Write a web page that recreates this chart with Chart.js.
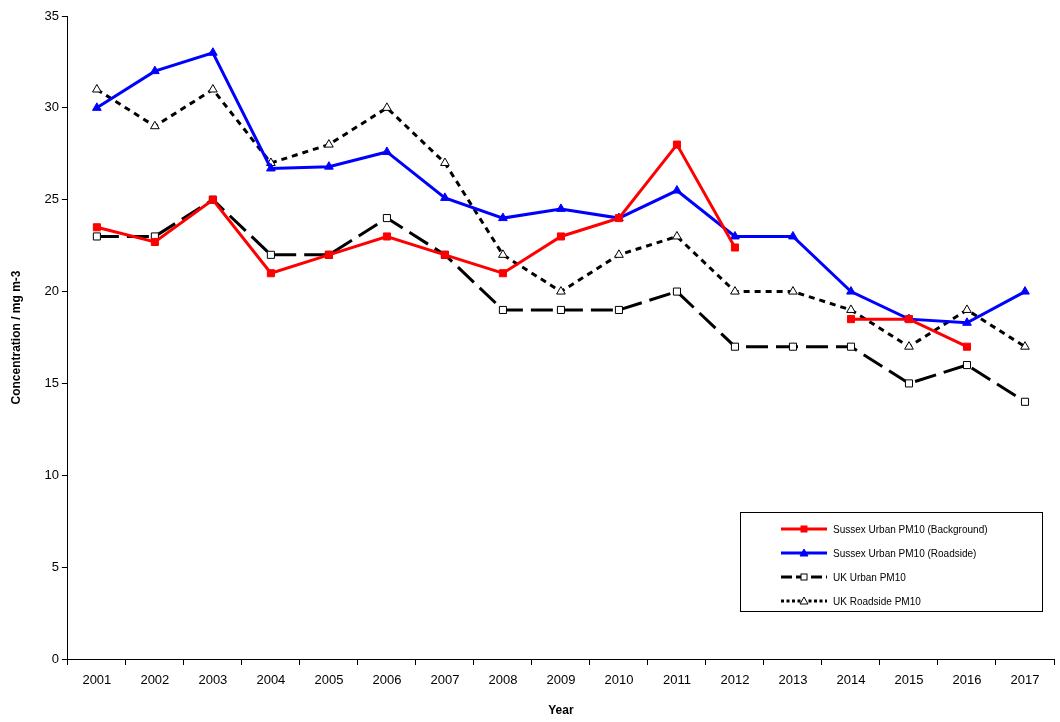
<!DOCTYPE html>
<html><head><meta charset="utf-8">
<script src="https://cdn.jsdelivr.net/npm/chart.js@4/dist/chart.umd.min.js"></script>
<style>
body{margin:0;background:#fff;font-family:"Liberation Sans",Arial,sans-serif}
#wrap{position:relative;width:1060px;height:722px}
#legend{position:absolute;left:740px;top:512px;width:303px;height:100px;border:1px solid #000;background:#fff;font-size:10px;box-sizing:border-box;padding-top:4px}
#legend div{height:24px;display:flex;align-items:center}
#legend canvas{margin:0 6px 0 40px}
</style></head><body>
<div id="wrap"><canvas id="c" width="1060" height="722"></canvas>
<div id="legend"></div></div>
<script>
const years = ['2001','2002','2003','2004','2005','2006','2007','2008','2009','2010','2011','2012','2013','2014','2015','2016','2017'];
const sussexBackground = [23.5,22.7,25,21,22,23,22,21,23,24,28,22.4,null,18.5,18.5,17,null];
const sussexRoadside = [30,32,33,26.7,26.8,27.6,25.1,24,24.5,24,25.5,23,23,20,18.5,18.3,20];
const ukUrban = [23,23,25,22,22,24,22,19,19,19,20,17,17,17,15,16,14];
const ukRoadside = [31,29,31,27,28,30,27,22,20,22,23,20,20,19,17,19,17];

const series = [
  {label:'Sussex Urban PM10 (Background)', data:sussexBackground, borderColor:'#ff0000', backgroundColor:'#ff0000', pointStyle:'rect', pointRadius:5, borderDash:[]},
  {label:'Sussex Urban PM10 (Roadside)', data:sussexRoadside, borderColor:'#0000ff', backgroundColor:'#0000ff', pointStyle:'triangle', pointRadius:5, borderDash:[]},
  {label:'UK Urban PM10', data:ukUrban, borderColor:'#000', backgroundColor:'#fff', pointStyle:'rect', pointRadius:5, borderDash:[22,8]},
  {label:'UK Roadside PM10', data:ukRoadside, borderColor:'#000', backgroundColor:'#fff', pointStyle:'triangle', pointRadius:5, borderDash:[6,5]}
];

new Chart(document.getElementById('c'), {
  type:'line',
  data:{labels:years, datasets:series.map(s => ({...s, borderWidth:3, pointBorderWidth:1, tension:0, spanGaps:false}))},
  options:{
    responsive:false, animation:false,
    layout:{padding:{top:16,right:0,left:9,bottom:0}},
    plugins:{legend:{display:false}, tooltip:{enabled:false}},
    scales:{
      x:{offset:true, grid:{display:true, offset:true, drawOnChartArea:false, tickLength:6, color:'#000'}, border:{color:'#000'},
         ticks:{padding:8, color:'#000', font:{size:13, family:'Liberation Sans'}},
         title:{display:true, text:'Year', color:'#000', padding:{top:7,bottom:4}, font:{size:12, weight:'bold', family:'Liberation Sans'}}},
      y:{min:0, max:35, grid:{display:true, drawOnChartArea:false, tickLength:6, color:'#000'}, border:{color:'#000'},
         ticks:{stepSize:5, color:'#000', font:{size:13, family:'Liberation Sans'}},
         title:{display:true, text:'Concentration / mg m-3', color:'#000', padding:{top:0,bottom:18}, font:{size:12, weight:'bold', family:'Liberation Sans'}}}
    }
  }
});

const lg = document.getElementById('legend');
series.forEach(s => {
  const row = document.createElement('div');
  const cv = document.createElement('canvas'); cv.width = 46; cv.height = 12;
  const g = cv.getContext('2d');
  g.strokeStyle = s.borderColor; g.lineWidth = 3; g.setLineDash(s.borderDash.map(v => v/2));
  g.beginPath(); g.moveTo(0,6); g.lineTo(46,6); g.stroke();
  g.setLineDash([]); g.fillStyle = s.backgroundColor; g.lineWidth = 1;
  if (s.pointStyle==='rect') { g.fillRect(20,3,6,6); g.strokeRect(20,3,6,6); }
  else { g.beginPath(); g.moveTo(23,2); g.lineTo(27,9); g.lineTo(19,9); g.closePath(); g.fill(); g.stroke(); }
  row.appendChild(cv); row.appendChild(document.createTextNode(s.label));
  lg.appendChild(row);
});
</script></body></html>
